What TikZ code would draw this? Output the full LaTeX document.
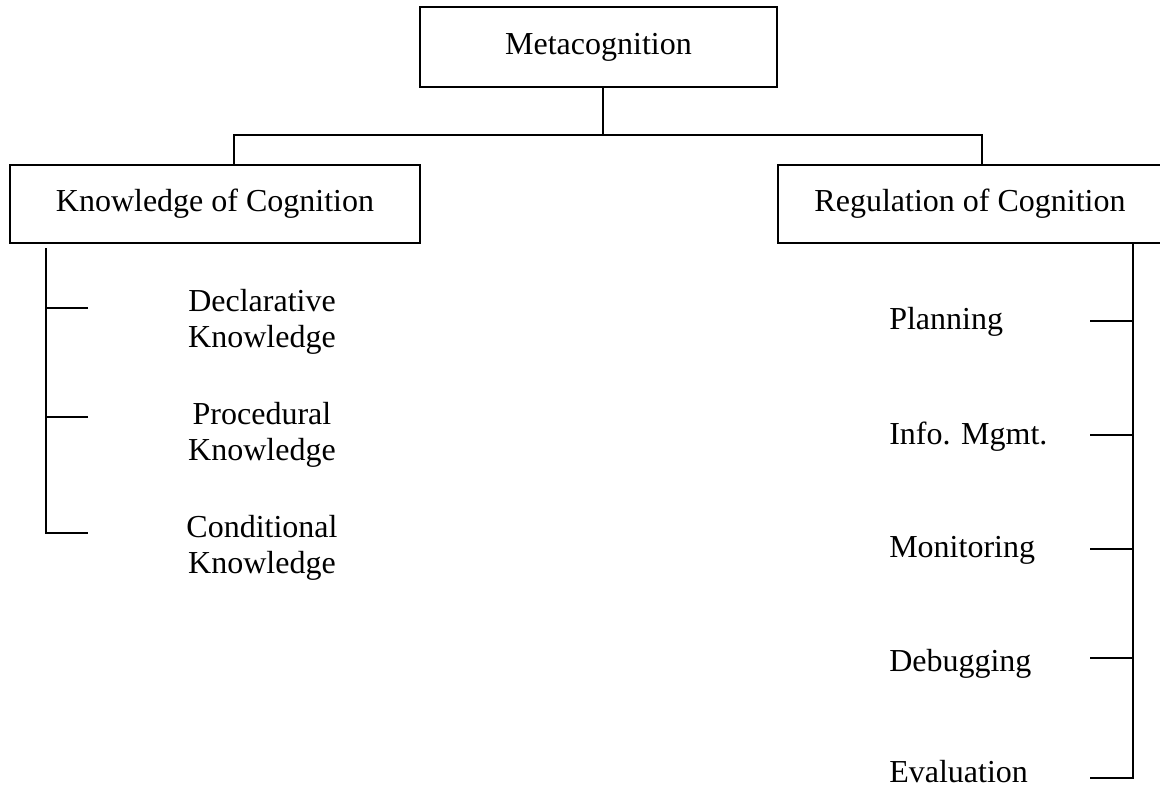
\documentclass[tikz,border=0pt]{standalone}
\usepackage{fontspec}
\setmainfont{Liberation Serif}
\usepackage{tikz}

\tikzset{
  box/.style={draw, line width=1pt, inner sep=0pt, align=center},
  sub/.style={inner sep=0pt, align=center},
  task/.style={inner sep=0pt, anchor=base west},
  link/.style={line width=1pt}
}

\begin{document}
\begin{tikzpicture}[x=0.75pt,y=0.75pt,yscale=-1,xscale=1,font=\fontsize{24}{27}\selectfont]
\useasboundingbox (0,0) rectangle (1160,788);

% Boxes
\node [box, minimum width=267.75pt, minimum height=60pt] (meta) at (598.5,47) {Metacognition};
\node [box, minimum width=307.5pt, minimum height=58.5pt] (koc) at (215,204) {Knowledge of Cognition};
\node [box, minimum width=288pt, minimum height=58.5pt] (roc) at (970,204) {Regulation of Cognition};

% Text Node
\node [sub, anchor=base] (decl) at (262,347) {Declarative\\Knowledge};
\node [sub, anchor=base] (proc) at (262,460) {Procedural\\Knowledge};
\node [sub, anchor=base] (cond) at (262,573) {Conditional\\Knowledge};

% Text Node
\node [task] (plan) at (889,329) {Planning};
\node [task] (info) at (889,444) {Info. Mgmt.};
\node [task] (moni) at (889,557) {Monitoring};
\node [task] (debug) at (889,671) {Debugging};
\node [task, text depth=0pt] (evalu) at (889,782) {Evaluation};

%Straight Lines
\coordinate (busM) at (603,135);
\coordinate (busL) at (234,135);
\coordinate (busR) at (982,135);
\draw [link] (busM |- meta.south) -- (busM);
\draw [link] (busL |- koc.north) -- (busL) -- (busR) -- (busR |- roc.north);

%Straight Lines
\coordinate (kspine) at (46,248);
\coordinate (declTick) at (88,308);
\coordinate (procTick) at (88,417);
\coordinate (condTick) at (88,533);
\draw [link] (kspine) -- (kspine |- condTick) -- (condTick);
\draw [link] (declTick) -- (declTick -| kspine);
\draw [link] (procTick) -- (procTick -| kspine);

%Straight Lines
\coordinate (rspine) at (1133,243);
\coordinate (planTick) at (1090,321);
\coordinate (infoTick) at (1090,435);
\coordinate (moniTick) at (1090,549);
\coordinate (debugTick) at (1090,658);
\coordinate (evaluTick) at (1090,778);
\draw [link] (rspine |- roc.south) -- (rspine |- evaluTick) -- (evaluTick);
\draw [link] (planTick) -- (planTick -| rspine);
\draw [link] (infoTick) -- (infoTick -| rspine);
\draw [link] (moniTick) -- (moniTick -| rspine);
\draw [link] (debugTick) -- (debugTick -| rspine);
\end{tikzpicture}
\end{document}
